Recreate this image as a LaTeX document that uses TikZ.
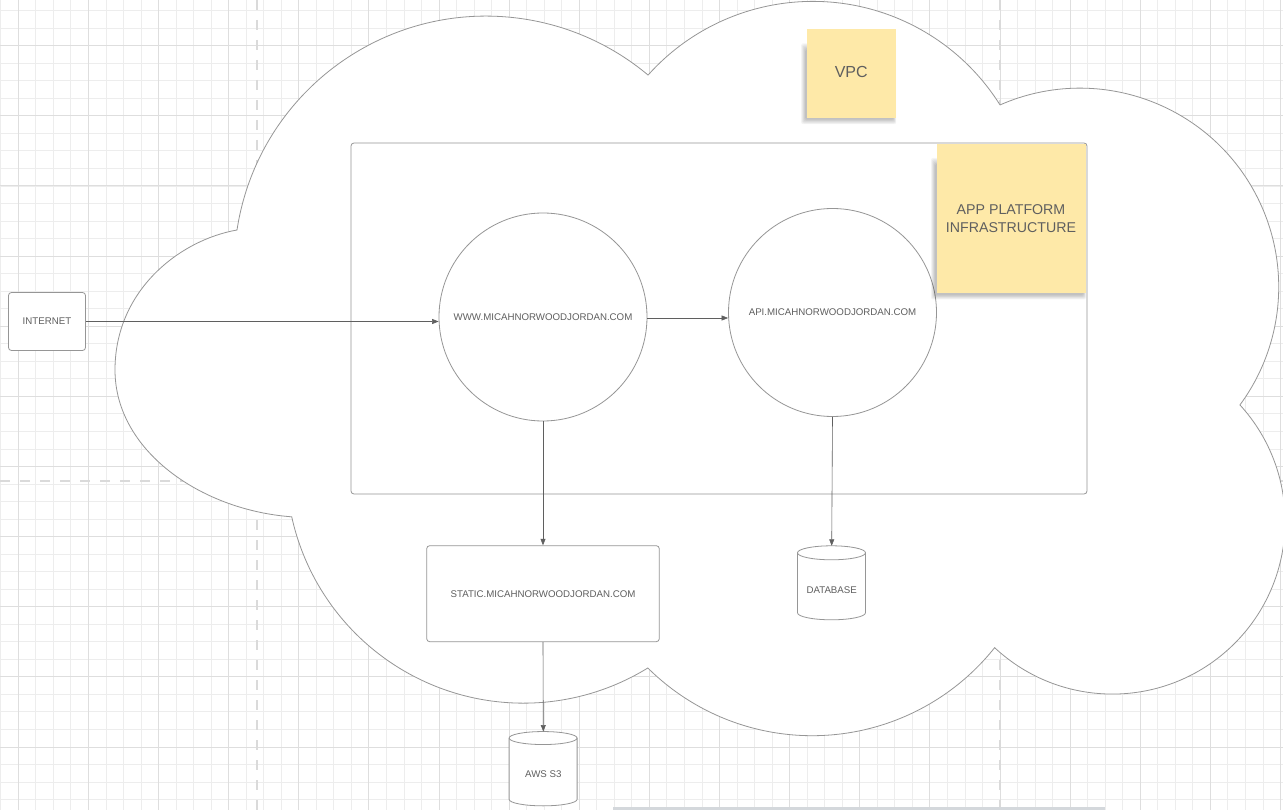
\documentclass[tikz,border=0pt]{standalone}
\usepackage{fontspec}
\setmainfont{Liberation Sans}
\usetikzlibrary{arrows.meta,calc}
\definecolor{gridminor}{RGB}{237,237,237}
\definecolor{gridmajor}{RGB}{222,222,222}
\definecolor{pagebreak}{RGB}{218,218,218}
\definecolor{outline}{RGB}{150,150,150}
\definecolor{connector}{RGB}{95,95,95}
\definecolor{txt}{RGB}{95,95,95}
\definecolor{notefill}{RGB}{254,233,168}
\definecolor{scrollbar}{RGB}{212,216,220}
\newcommand\noteshadow[4]{%
  \foreach \k in {0,...,5} {\fill[black,opacity=0.045,rounded corners=2pt]
    ({#1-1.5-\k*0.8},{#2+20-\k*1.2}) rectangle ({#3-2+\k*0.5},{#4+2+\k*0.9});}}
\begin{document}
\begin{tikzpicture}[x=1pt,y=-1pt,
  shapebox/.style={draw=outline,line width=0.8pt,fill=white,rounded corners=3pt,
    inner sep=0pt,text=txt,font=\fontsize{9.7}{12}\selectfont},
  circ/.style={circle,draw=outline,line width=0.8pt,fill=white,inner sep=0pt,
    minimum size=208pt,text=txt,font=\fontsize{9.7}{12}\selectfont},
  cylspot/.style={inner sep=0pt,minimum width=68pt,text=txt,font=\fontsize{9.7}{11}\selectfont},
  cylline/.style={draw=outline,line width=0.8pt,fill=white},
  sticky/.style={fill=notefill,inner sep=0pt,text=txt,align=center},
  conn/.style={draw=connector,line width=0.6pt,-{Triangle[length=6.5pt,width=5pt]}},
  cloudline/.style={draw=outline,line width=0.8pt,fill=white},
  pagedash/.style={draw=pagebreak,line width=2.7pt,dash pattern=on 10pt off 10pt}
]
\useasboundingbox (0,0) rectangle (1283,810);
\fill[white] (0,0) rectangle (1283,810);
\begin{scope}
\clip (0,0) rectangle (1283,810);
% grid
\foreach \i in {0,...,73} {\draw[gridminor,line width=0.7pt] (0.7+17.53*\i,0) -- (0.7+17.53*\i,810);}
\foreach \i in {0,...,46} {\draw[gridminor,line width=0.7pt] (0,10.6+17.53*\i) -- (1283,10.6+17.53*\i);}
\foreach \i in {0,...,18} {\draw[gridmajor,line width=0.8pt] (18.2+70.13*\i,0) -- (18.2+70.13*\i,810);}
\foreach \i in {0,...,11} {\draw[gridmajor,line width=0.8pt] (0,45.6+70.13*\i) -- (1283,45.6+70.13*\i);}
% page breaks
\draw[pagedash] (257,0) -- (257,810);
\draw[pagedash] (1000,0) -- (1000,810);
\draw[pagedash] (0,481) -- (1283,481);
% bottom bar
\draw[scrollbar,line width=2.5pt] (613,808.5) -- (1105,808.5);
% cloud
\path[cloudline] (237,230) arc[start angle=188.7,end angle=310,radius=252]
 arc[start angle=221.8,end angle=327.9,radius=221]
 arc[start angle=246.3,end angle=396.4,radius=198.8]
 arc[start angle=-42.4,end angle=133,radius=172.7]
 arc[start angle=38.5,end angle=134.8,radius=233.2]
 arc[start angle=58.4,end angle=167.6,radius=237.3]
 .. controls (200,510) and (115,450) .. (115,370)
 .. controls (115,290) and (180,240) .. (237,230) -- cycle;
\end{scope}

% app platform container
\node[draw=outline,line width=0.8pt,rounded corners=3pt,minimum width=736pt,minimum height=351pt,inner sep=0pt] (app) at (719,318.5) {};

% VPC note
\noteshadow{806.7}{29.3}{895.7}{117.7}
\node[sticky,minimum width=89pt,minimum height=88.4pt] (vpcnote) at (851.2,73.5) {};
\node[text=txt,font=\fontsize{16}{19}\selectfont,inner sep=0pt] (vpclabel) at ($(vpcnote.center)+(0,-2)$) {VPC};

% nodes
\node[shapebox,minimum width=77pt,minimum height=58pt] (inet) at (47,321.5) {INTERNET};
\node[circ] (www) at (543,317) {WWW.MICAHNORWOODJORDAN.COM};
\node[circ] (api) at (832.5,312.5) {API.MICAHNORWOODJORDAN.COM};
\node[shapebox,minimum width=232.6pt,minimum height=96pt] (static) at (543,593.7) {STATIC.MICAHNORWOODJORDAN.COM};

% cylinders
\node[cylspot,minimum height=74.3pt] (s3) at (543.3,768.9) {};
\path[cylline] ($(s3.north west)+(0,6.5)$) arc[start angle=180,end angle=360,x radius=34,y radius=6.5]
  -- ++(0,61.3) arc[start angle=0,end angle=180,x radius=34,y radius=6.5] -- cycle;
\draw[outline,line width=0.8pt] ($(s3.north west)+(0,6.5)$) arc[start angle=180,end angle=0,x radius=34,y radius=6.5];
\node[cylspot] at ($(s3.center)+(0,5)$) {AWS S3};

\node[cylspot,minimum height=74pt] (db) at (831.7,583) {};
\path[cylline] ($(db.north west)+(0,7)$) arc[start angle=180,end angle=360,x radius=34,y radius=7]
  -- ++(0,60) arc[start angle=0,end angle=180,x radius=34,y radius=7] -- cycle;
\draw[outline,line width=0.8pt] ($(db.north west)+(0,7)$) arc[start angle=180,end angle=0,x radius=34,y radius=7];
\node[cylspot] at ($(db.center)+(0,7)$) {DATABASE};

% connectors
\draw[conn] (inet.east) -- (inet.east -| www.west);
\draw[conn] ($(www.east)+(0,1)$) -- ($(www.east -| api.west)+(0,1)$);
\draw[conn] (www.south) -- (static.north);
\draw[conn] (static.south) -- (s3.north);
\draw[conn] (api.south) -- (db.north);

% app platform note
\noteshadow{936.5}{144}{1085.5}{293}
\node[sticky,minimum width=149pt,minimum height=149pt,font=\fontsize{14.2}{17.5}\selectfont] (appnote) at (1011,218.5) {APP PLATFORM\\INFRASTRUCTURE};
\end{tikzpicture}
\end{document}
